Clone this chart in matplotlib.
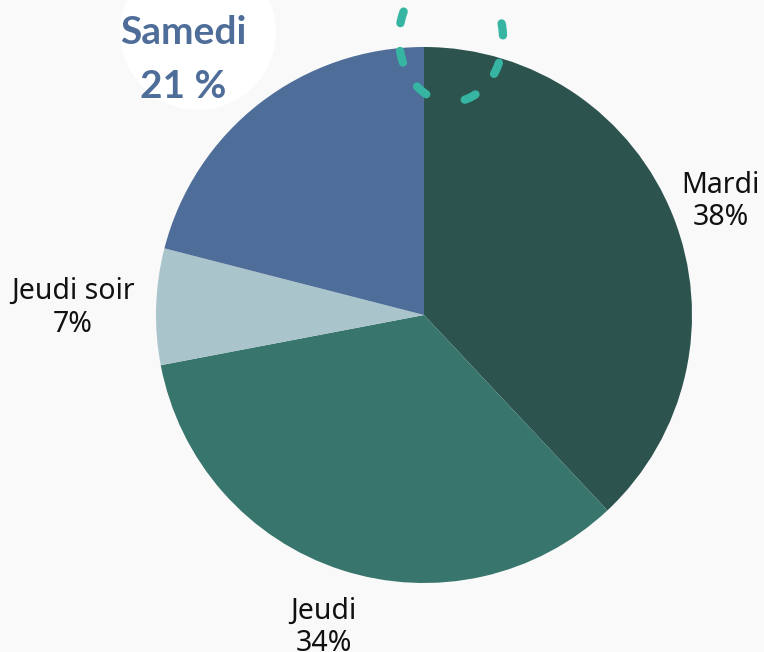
import numpy as np
import matplotlib.pyplot as plt
from matplotlib.patches import Circle

categories = ["Mardi", "Jeudi", "Jeudi soir", "Samedi"]
values = [38, 34, 7, 21]
colors = ["#2c534e", "#37756d", "#aac4cc", "#4e6d99"]
label_dist = [1.19, 1.21, 1.31, None]

W, H = 764, 652
fig = plt.figure(figsize=(W / 100, H / 100), dpi=100)
fig.patch.set_facecolor("#f9f9f9")
ax = fig.add_axes([0, 0, 1, 1])
ax.set_xlim(0, W)
ax.set_ylim(0, H)
ax.set_aspect("equal")
ax.axis("off")

cx, cy, R = 424, H - 315, 268

# white highlight circle behind Samedi label
ax.add_patch(Circle((198, H - 32), 78, facecolor="white", edgecolor="none", zorder=0))

wedges, _ = ax.pie(values, colors=colors, startangle=90, counterclock=False,
                   center=(cx, cy), radius=R, frame=True,
                   wedgeprops=dict(linewidth=0))
ax.set_xlim(0, W)
ax.set_ylim(0, H)
ax.axis("off")

font = ["Noto Sans", "DejaVu Sans"]
for w, cat, v, d in zip(wedges, categories, values, label_dist):
    if d is None:
        continue
    ang = np.deg2rad((w.theta1 + w.theta2) / 2)
    x = cx + R * d * np.cos(ang)
    y = cy + R * d * np.sin(ang) - 4
    ax.text(x, y, f"{cat}\n{v}%", ha="center", va="center", fontsize=20.5,
            family=font, color="#111111", linespacing=1.15)

bold = ["Lato", "DejaVu Sans"]
ax.text(183, H - 32, "Samedi", ha="center", va="center", fontsize=28,
        fontweight="bold", family=bold, color="#4e6d99")
ax.text(183, H - 87, f"{values[3]} %", ha="center", va="center", fontsize=28,
        fontweight="bold", family=bold, color="#4e6d99")

# dashed loop at top (decorative)
t = np.linspace(-np.pi / 2, 1.5 * np.pi, 400)
ax.plot(451 + 52 * np.cos(t), (H - 38) + 64 * np.sin(t), color="#36b5a2",
        linewidth=6, linestyle=(3.12, (1.44, 3.36)), dash_capstyle="round",
        solid_capstyle="round", zorder=5)

fig.savefig("out.png", dpi=100, facecolor=fig.get_facecolor())
